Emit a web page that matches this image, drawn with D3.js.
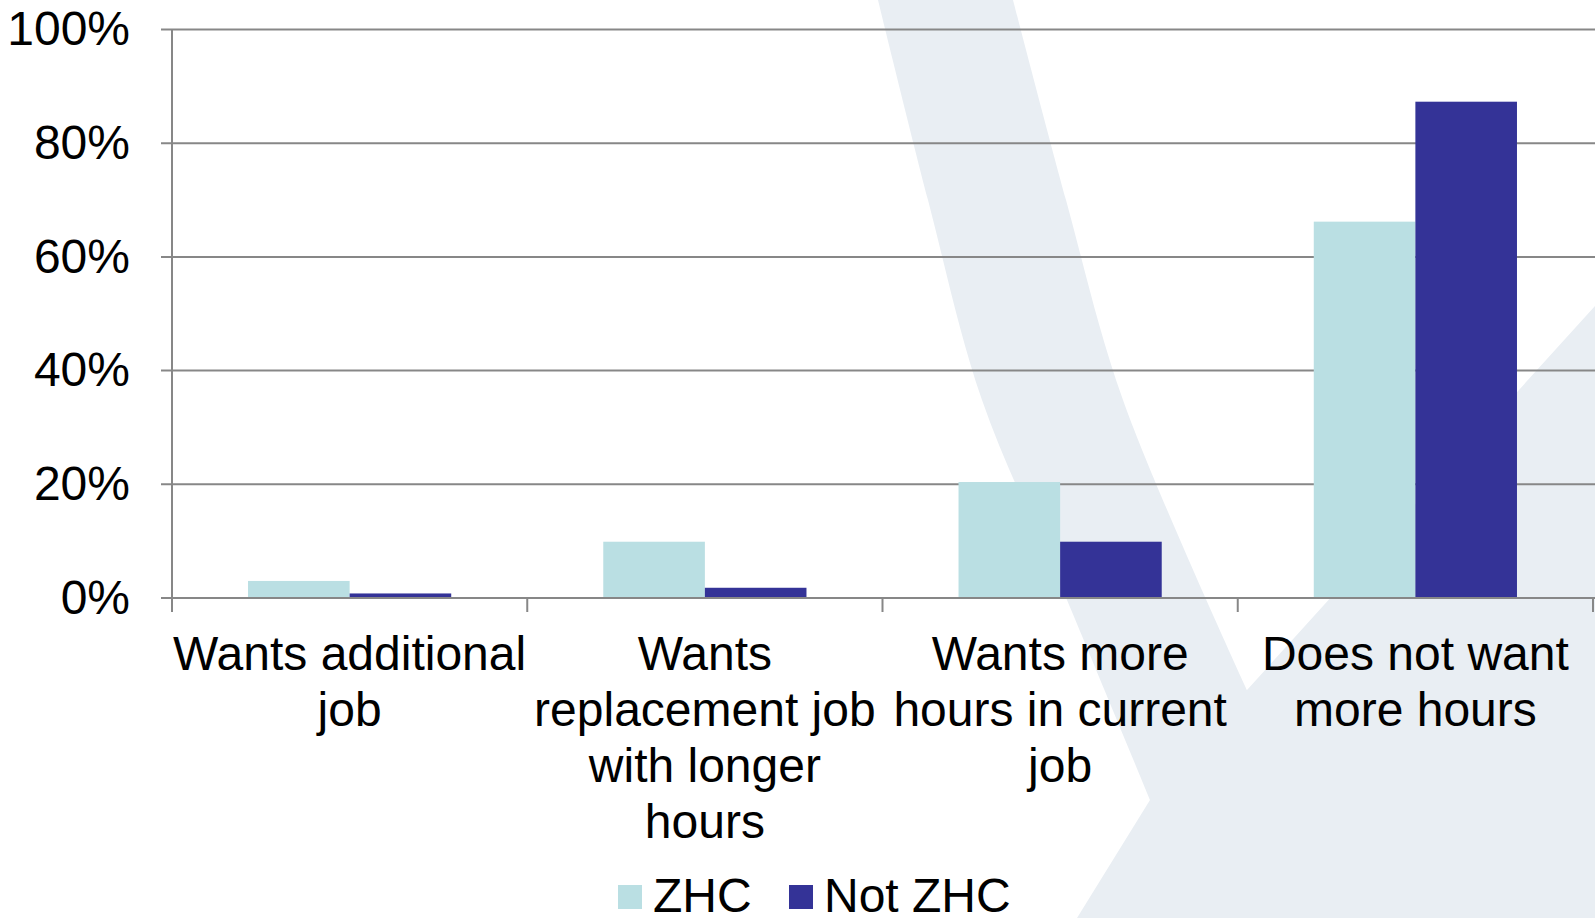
<!DOCTYPE html>
<html>
<head>
<meta charset="utf-8">
<script src="https://cdn.jsdelivr.net/npm/d3@7"></script>
<style>
  body { margin: 0; background: #fff; }
  svg { display: block; font-family: "Liberation Sans", Arial, sans-serif; }
</style>
</head>
<body>
<svg id="chart" width="1595" height="918"></svg>
<script>
// Zero-hours contracts: wanting more hours

const categories = [
  ["Wants additional", "job"],
  ["Wants", "replacement job", "with longer", "hours"],
  ["Wants more", "hours in current", "job"],
  ["Does not want", "more hours"]
];
const seriesNames = ["ZHC", "Not ZHC"];
const zhc = [3.0, 9.9, 20.4, 66.2];
const notZhc = [0.8, 1.8, 9.9, 87.3];
const yTicks = [0, 20, 40, 60, 80, 100];

const colors = { "ZHC": "#badfe3", "Not ZHC": "#343397" };

const W = 1595, H = 918;
const plotLeft = 172, plotRight = 1593, plotTop = 29.5, plotBottom = 598;
const fontSize = 48;

const svg = d3.select("#chart");

// faint watermark swoosh behind the chart
const leftEdge = [[878, 0], [928, 200], [982, 400], [1067, 600], [1150, 800]];
const innerEdge = [[1247, 690], [1123, 400], [1066, 200], [1013, 0]];
const lineGen = d3.line().curve(d3.curveCatmullRom);
const wm = lineGen(leftEdge) + "L1077,918L1595,918L1595,306L1247,690" +
  lineGen(innerEdge).replace(/^M/, "L") + "Z";
svg.append("path").attr("d", wm).attr("fill", "#e9eef3");

const keys = categories.map((d, i) => "c" + i);

const x = d3.scaleBand()
  .domain(keys)
  .range([plotLeft, plotRight])
  .paddingInner(0.428)
  .paddingOuter(0.214);

const xs = d3.scaleBand()
  .domain(seriesNames)
  .range([0, x.bandwidth()]);

const y = d3.scaleLinear()
  .domain([0, 100])
  .range([plotBottom, plotTop]);

// gridlines
svg.append("g")
  .selectAll("line")
  .data(yTicks)
  .join("line")
  .attr("x1", 161)
  .attr("x2", W)
  .attr("y1", d => y(d))
  .attr("y2", d => y(d))
  .attr("stroke", "#878787")
  .attr("stroke-width", 2);

// y axis
const yAxis = svg.append("g")
  .attr("transform", `translate(${plotLeft},0)`)
  .call(d3.axisLeft(y).tickValues(yTicks).tickFormat(d => d + "%").tickSize(11).tickPadding(31));
yAxis.select(".domain").remove();
yAxis.selectAll("line").remove();
yAxis.selectAll("text")
  .attr("font-size", fontSize)
  .attr("fill", "#000")
  .attr("font-family", "Liberation Sans, Arial, sans-serif");

svg.append("line")
  .attr("x1", plotLeft).attr("x2", plotLeft)
  .attr("y1", plotTop).attr("y2", plotBottom + 14)
  .attr("stroke", "#878787").attr("stroke-width", 2);

// category boundary ticks
const gap = (x.step() - x.bandwidth()) / 2;
const bounds = keys.map(k => x(k) - gap).concat([x(keys[keys.length - 1]) + x.bandwidth() + gap]);
svg.append("g")
  .selectAll("line")
  .data(bounds.slice(1))
  .join("line")
  .attr("x1", d => d).attr("x2", d => d)
  .attr("y1", plotBottom).attr("y2", plotBottom + 14)
  .attr("stroke", "#878787").attr("stroke-width", 2);

// bars
const rows = keys.map((k, i) => ({ key: k, values: [{ s: "ZHC", v: zhc[i] }, { s: "Not ZHC", v: notZhc[i] }] }));
svg.append("g")
  .selectAll("g")
  .data(rows)
  .join("g")
  .attr("transform", d => `translate(${x(d.key)},0)`)
  .selectAll("rect")
  .data(d => d.values)
  .join("rect")
  .attr("x", d => xs(d.s))
  .attr("width", xs.bandwidth())
  .attr("y", d => y(d.v))
  .attr("height", d => y(0) - y(d.v))
  .attr("fill", d => colors[d.s]);

// baseline on top of bars
svg.append("line")
  .attr("x1", 161).attr("x2", W)
  .attr("y1", y(0)).attr("y2", y(0))
  .attr("stroke", "#878787").attr("stroke-width", 2);

// category labels
svg.append("g")
  .selectAll("text")
  .data(keys)
  .join("text")
  .attr("x", k => x(k) + x.bandwidth() / 2)
  .attr("y", 670)
  .attr("text-anchor", "middle")
  .attr("font-size", fontSize)
  .attr("fill", "#000")
  .each(function (k, i) {
    d3.select(this).selectAll("tspan")
      .data(categories[i])
      .join("tspan")
      .attr("x", x(k) + x.bandwidth() / 2)
      .attr("dy", (d, j) => j === 0 ? 0 : 56)
      .text(d => d);
  });

// legend
const legendX = [618, 789];
const legend = svg.append("g")
  .selectAll("g")
  .data(seriesNames)
  .join("g")
  .attr("transform", (d, i) => `translate(${legendX[i]},885)`);
legend.append("rect")
  .attr("width", 24).attr("height", 24)
  .attr("fill", d => colors[d]);
legend.append("text")
  .attr("x", 35).attr("y", 27)
  .attr("font-size", fontSize)
  .attr("fill", "#000")
  .text(d => d);
</script>
</body>
</html>
